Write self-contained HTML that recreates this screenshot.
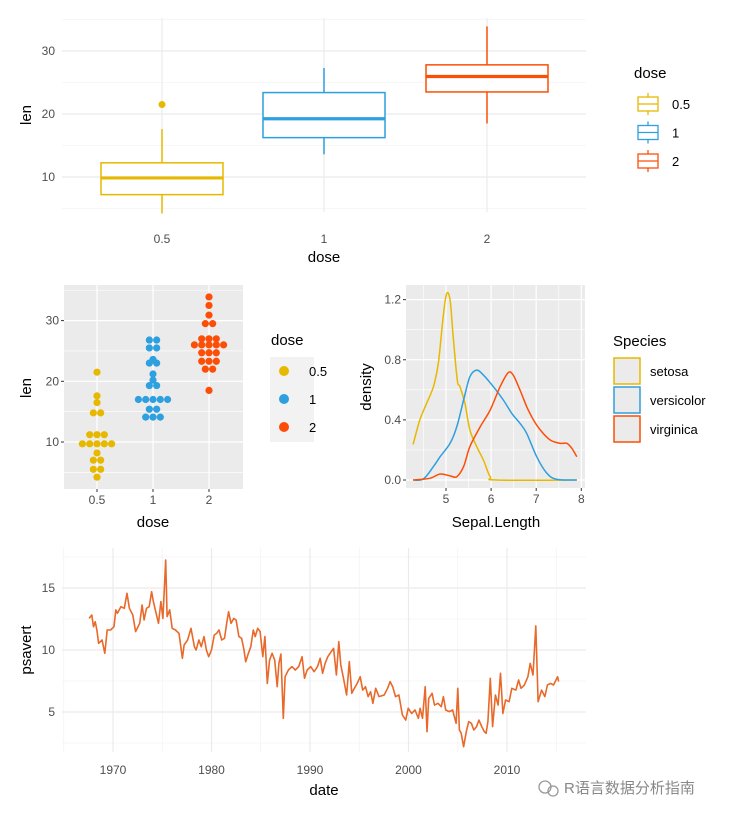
<!DOCTYPE html>
<html><head><meta charset="utf-8">
<style>
body{margin:0;background:#fff;}
svg{display:block;font-family:"Liberation Sans","Noto Sans CJK SC",sans-serif;}
.tick{font-size:12px;fill:#4d4d4d;}
.title{font-size:15px;fill:#000;}
.leg{font-size:13px;fill:#000;}
</style></head>
<body>
<svg id="s" width="741" height="818" viewBox="0 0 741 818">
<g id="g1"></g>
<g id="g2"></g>
<g id="g3"></g>
<g id="g4"></g>
<g>
<circle cx="545" cy="787" r="6" fill="none" stroke="#999" stroke-width="1.3"/>
<circle cx="553" cy="791" r="5" fill="none" stroke="#999" stroke-width="1.3"/>
<text x="564" y="793" font-size="15" fill="#888">R语言数据分析指南</text>
</g>
</svg>
<script>
// ---- data ----
const doseCats = ["0.5","1","2"];
const doseColors = ["#E7B800","#2E9FDF","#FC4E07"];
const boxLower = [4.2,13.6,18.5];
const boxQ1 = [7.2,16.25,23.5];
const boxMedian = [9.85,19.25,25.95];
const boxQ3 = [12.25,23.4,27.8];
const boxUpper = [17.6,27.3,33.9];
const boxOutliers = [[21.5],[],[]];
const lenTicks = [10,20,30];

const dotValues05 = [4.2,5.5,7.0,8.2,9.7,11.2,14.8,16.5,17.6,21.5];
const dotCounts05 = [1,2,2,1,5,3,2,1,1,1];
const dotValues1 = [14.1,15.4,17.0,19.3,20.2,21.2,23.0,23.6,25.5,26.8];
const dotCounts1 = [3,2,5,2,1,1,2,1,2,2];
const dotValues2 = [18.5,22.0,23.3,24.7,26.0,27.0,29.5,30.9,32.5,33.9];
const dotCounts2 = [1,2,3,3,5,3,2,1,1,1];

const species = ["setosa","versicolor","virginica"];
const setosaX = [4.27,4.42,4.57,4.72,4.83,4.93,5.01,5.09,5.16,5.25,5.31,5.42,5.53,5.68,5.83,5.98,6.13,7.9];
const setosaY = [0.237,0.399,0.51,0.62,0.776,1.064,1.237,1.197,0.953,0.665,0.62,0.51,0.333,0.222,0.133,0.022,0,0];
const versiX = [4.27,4.5,4.72,4.87,5.09,5.24,5.39,5.53,5.68,5.83,6.05,6.27,6.46,6.64,6.79,7.01,7.24,7.46,7.9];
const versiY = [0,0.007,0.089,0.155,0.244,0.355,0.532,0.687,0.731,0.698,0.621,0.532,0.443,0.377,0.31,0.155,0.044,0.004,0];
const virgX = [4.27,4.64,4.87,5.09,5.24,5.39,5.53,5.76,5.98,6.2,6.38,6.49,6.64,6.79,6.94,7.09,7.31,7.53,7.68,7.79,7.9];
const virgY = [0,0.011,0.04,0.027,0.022,0.089,0.222,0.355,0.466,0.621,0.714,0.698,0.599,0.488,0.399,0.333,0.266,0.244,0.244,0.211,0.155];
const densXTicks = [5,6,7,8];
const densYTicks = [0,0.4,0.8,1.2];
const densYLabels = ["0.0","0.4","0.8","1.2"];

const tsYears = [1967.57,1967.85,1968.02,1968.19,1968.37,1968.54,1968.89,1969.17,1969.41,1969.76,1970.10,1970.28,1970.45,1970.80,1971.15,1971.42,1971.67,1972.01,1972.29,1972.71,1972.95,1973.16,1973.40,1973.68,1973.92,1974.10,1974.38,1974.62,1974.86,1975.07,1975.35,1975.49,1975.76,1976.01,1976.35,1976.70,1977.05,1977.22,1977.57,1977.92,1978.26,1978.44,1978.72,1978.96,1979.24,1979.48,1979.72,1980.00,1980.28,1980.52,1980.76,1981.04,1981.32,1981.56,1981.74,1981.98,1982.26,1982.50,1982.78,1983.06,1983.30,1983.47,1983.75,1983.99,1984.24,1984.44,1984.69,1984.93,1985.21,1985.42,1985.66,1985.90,1986.15,1986.42,1986.67,1986.84,1987.05,1987.29,1987.47,1987.81,1988.16,1988.51,1988.85,1989.20,1989.44,1989.72,1990.07,1990.42,1990.76,1991.04,1991.28,1991.53,1991.81,1992.15,1992.40,1992.68,1992.92,1993.13,1993.40,1993.72,1993.99,1994.24,1994.51,1994.79,1995.10,1995.35,1995.63,1995.90,1996.15,1996.39,1996.67,1997.01,1997.53,1997.88,1998.13,1998.40,1998.68,1999.03,1999.38,1999.72,1999.97,2000.31,2000.66,2001.01,2001.18,2001.42,2001.70,2001.88,2002.05,2002.40,2002.64,2002.99,2003.33,2003.54,2003.78,2004.13,2004.48,2004.83,2005.00,2005.17,2005.35,2005.59,2005.87,2006.11,2006.39,2006.63,2006.91,2007.15,2007.43,2007.71,2007.88,2008.06,2008.30,2008.54,2008.82,2009.10,2009.34,2009.58,2009.86,2010.21,2010.49,2010.90,2011.18,2011.42,2011.77,2012.12,2012.36,2012.64,2012.92,2013.16,2013.51,2013.85,2014.10,2014.44,2014.72,2015.14,2015.24];
const tsValues = [12.55,12.82,11.88,12.28,11.61,10.54,10.81,9.73,11.61,11.61,11.88,13.23,12.96,13.49,13.36,14.57,13.36,12.82,11.48,12.15,13.63,12.42,13.36,13.49,14.70,13.90,12.96,12.15,13.90,12.55,17.26,12.69,13.23,11.75,11.61,11.34,9.33,10.40,10.81,11.75,10.27,10.0,10.81,10.27,11.08,10.0,9.46,10.0,11.21,11.34,11.61,10.81,10.94,12.28,13.09,12.15,12.55,12.42,11.08,10.94,10.0,9.06,9.73,10.27,11.61,11.08,11.75,11.48,9.46,11.08,7.31,9.19,9.73,9.19,7.04,8.92,9.68,4.49,7.85,8.39,8.66,8.39,8.66,9.46,7.72,8.39,8.66,8.25,8.66,9.33,8.12,8.92,9.46,9.87,10.13,7.98,10.67,8.79,7.72,6.37,9.06,6.51,6.91,7.31,7.85,6.77,7.04,6.24,6.64,5.70,6.91,6.24,6.37,6.91,7.45,7.04,6.24,6.37,4.76,4.35,5.30,4.89,5.16,4.49,5.30,4.49,7.04,3.41,6.10,6.51,5.56,5.70,5.43,6.24,5.16,5.03,5.16,4.09,6.91,3.55,3.28,2.20,3.41,4.22,4.09,3.55,3.82,4.35,3.82,3.41,3.28,4.22,7.72,3.82,6.37,5.56,8.12,4.89,5.97,5.83,6.91,6.77,7.58,6.91,7.18,7.85,8.92,7.98,11.94,5.83,6.77,6.24,7.18,7.31,7.18,7.85,7.45];
const tsXTicks = [1970,1980,1990,2000,2010];
const tsYTicks = [5,10,15];

// ---- helpers ----
const NS="http://www.w3.org/2000/svg";
function mk(parent,tag,attrs,txt){const e=document.createElementNS(NS,tag);for(const k in attrs)e.setAttribute(k,attrs[k]);if(txt!==undefined)e.textContent=txt;parent.appendChild(e);return e;}
function smooth(P){let d='M'+P[0][0].toFixed(1)+','+P[0][1].toFixed(1);
for(let i=0;i<P.length-1;i++){const p0=P[Math.max(0,i-1)],p1=P[i],p2=P[i+1],p3=P[Math.min(P.length-1,i+2)];
const c1=[p1[0]+(p2[0]-p0[0])/6,p1[1]+(p2[1]-p0[1])/6],c2=[p2[0]-(p3[0]-p1[0])/6,p2[1]-(p3[1]-p1[1])/6];
d+=' C'+c1[0].toFixed(1)+','+c1[1].toFixed(1)+' '+c2[0].toFixed(1)+','+c2[1].toFixed(1)+' '+p2[0].toFixed(1)+','+p2[1].toFixed(1);}
return d;}

// ===== Panel 1: boxplot =====
(function(){
const g=document.getElementById('g1');
const L=62,R=586,T=18,B=212;
const y=v=>177-(v-10)*6.3;
const xc=[162,324,487];
[5,15,25,35].forEach(v=>{const l=mk(g,'line',{x1:L,x2:R,y1:y(v),y2:y(v),stroke:'#f0f0f0','stroke-width':0.6});

});
lenTicks.forEach(v=>{const l=mk(g,'line',{x1:L,x2:R,y1:y(v),y2:y(v),stroke:'#ebebeb','stroke-width':1.2});


const t=mk(g,'text',{x:55,y:y(v)+4,'text-anchor':'end',class:'tick'},String(v));

});
xc.forEach((x,i)=>{const l=mk(g,'line',{x1:x,x2:x,y1:T,y2:B,stroke:'#ebebeb','stroke-width':1.2});


const t=mk(g,'text',{x:x,y:243,'text-anchor':'middle',class:'tick'},doseCats[i]);

});
doseCats.forEach((c,i)=>{
const col=doseColors[i],x=xc[i],w=61;
const bx=mk(g,'g',{});


mk(bx,'line',{x1:x,x2:x,y1:y(boxUpper[i]),y2:y(boxQ3[i]),stroke:col,'stroke-width':1.5});
mk(bx,'line',{x1:x,x2:x,y1:y(boxQ1[i]),y2:y(boxLower[i]),stroke:col,'stroke-width':1.5});
mk(bx,'rect',{x:x-w,y:y(boxQ3[i]),width:2*w,height:y(boxQ1[i])-y(boxQ3[i]),fill:'#fff',stroke:col,'stroke-width':1.5});
mk(bx,'line',{x1:x-w,x2:x+w,y1:y(boxMedian[i]),y2:y(boxMedian[i]),stroke:col,'stroke-width':3.2});
boxOutliers[i].forEach(o=>{const p=mk(g,'circle',{cx:x,cy:y(o),r:3.5,fill:col});

});
});
const yt=mk(g,'text',{x:0,y:0,class:'title',transform:'translate(31,115) rotate(-90)','text-anchor':'middle'},'len');


const xt=mk(g,'text',{x:324,y:262,class:'title','text-anchor':'middle'},'dose');


const lt=mk(g,'text',{x:634,y:78,class:'title'},'dose');


doseCats.forEach((c,i)=>{const cy=104+i*28.5,col=doseColors[i];
const e=mk(g,'g',{});


mk(e,'line',{x1:648,x2:648,y1:cy-11,y2:cy+11,stroke:col,'stroke-width':1.3});
mk(e,'rect',{x:638,y:cy-7,width:20,height:14,fill:'#fff',stroke:col,'stroke-width':1.3});
mk(e,'line',{x1:638,x2:658,y1:cy,y2:cy,stroke:col,'stroke-width':1.3});
mk(e,'text',{x:672,y:cy+5,class:'leg'},c);});
})();

// ===== Panel 2: dotplot =====
(function(){
const g=document.getElementById('g2');
const L=64,R=243,T=285,B=489;
const y=v=>442-(v-10)*6.07;
const xc=[97,153,209];
mk(g,'rect',{x:L,y:T,width:R-L,height:B-T,fill:'#ebebeb'});
[5,15,25,35].forEach(v=>{if(y(v)>T&&y(v)<B)mk(g,'line',{x1:L,x2:R,y1:y(v),y2:y(v),stroke:'#fff','stroke-width':0.6});});
lenTicks.forEach(v=>{mk(g,'line',{x1:L,x2:R,y1:y(v),y2:y(v),stroke:'#fff','stroke-width':1.2});
mk(g,'line',{x1:L-3,x2:L,y1:y(v),y2:y(v),stroke:'#333','stroke-width':1});
const t=mk(g,'text',{x:L-5,y:y(v)+4,'text-anchor':'end',class:'tick'},String(v));

});
xc.forEach((x,i)=>{mk(g,'line',{x1:x,x2:x,y1:T,y2:B,stroke:'#fff','stroke-width':1.2});
mk(g,'line',{x1:x,x2:x,y1:B,y2:B+3,stroke:'#333','stroke-width':1});
const t=mk(g,'text',{x:x,y:B+15,'text-anchor':'middle',class:'tick'},doseCats[i]);

});
const vals=[dotValues05,dotValues1,dotValues2],cnts=[dotCounts05,dotCounts1,dotCounts2];
const d=7.3;
vals.forEach((vs,i)=>{vs.forEach((v,j)=>{const n=cnts[i][j];for(let k=0;k<n;k++){
const cx=xc[i]+(k-(n-1)/2)*d;
const p=mk(g,'circle',{cx:cx,cy:y(v),r:3.6,fill:doseColors[i]});

}});});
const yt=mk(g,'text',{x:0,y:0,class:'title',transform:'translate(31,388) rotate(-90)','text-anchor':'middle'},'len');


const xt=mk(g,'text',{x:153,y:527,class:'title','text-anchor':'middle'},'dose');


const lt=mk(g,'text',{x:271,y:345,class:'title'},'dose');


mk(g,'rect',{x:270,y:357,width:44,height:85,fill:'#f2f2f2'});
doseCats.forEach((c,i)=>{const cy=371+i*28;
const e=mk(g,'g',{});


mk(e,'circle',{cx:284,cy:cy,r:5,fill:doseColors[i]});
mk(e,'text',{x:309,y:cy+5,class:'leg'},c);});
})();

// ===== Panel 3: density =====
(function(){
const g=document.getElementById('g3');
const L=406,R=585,T=285,B=488;
const x=v=>446+(v-5)*45.1;
const y=v=>480-v*150.3;
mk(g,'rect',{x:L,y:T,width:R-L,height:B-T,fill:'#ebebeb'});
[4.5,5.5,6.5,7.5].forEach(v=>mk(g,'line',{x1:x(v),x2:x(v),y1:T,y2:B,stroke:'#fff','stroke-width':0.6}));
[0.2,0.6,1.0].forEach(v=>mk(g,'line',{x1:L,x2:R,y1:y(v),y2:y(v),stroke:'#fff','stroke-width':0.6}));
densXTicks.forEach(v=>{mk(g,'line',{x1:x(v),x2:x(v),y1:T,y2:B,stroke:'#fff','stroke-width':1.2});
mk(g,'line',{x1:x(v),x2:x(v),y1:B,y2:B+3,stroke:'#333'});
const t=mk(g,'text',{x:x(v),y:B+15,'text-anchor':'middle',class:'tick'},String(v));

});
densYTicks.forEach((v,i)=>{mk(g,'line',{x1:L,x2:R,y1:y(v),y2:y(v),stroke:'#fff','stroke-width':1.2});
mk(g,'line',{x1:L-3,x2:L,y1:y(v),y2:y(v),stroke:'#333'});
const t=mk(g,'text',{x:L-5,y:y(v)+4,'text-anchor':'end',class:'tick'},densYLabels[i]);

});
const xs=[setosaX,versiX,virgX],ys=[setosaY,versiY,virgY];
species.forEach((s,i)=>{
const P=xs[i].map((v,j)=>[x(v),y(ys[i][j])]);
const p=mk(g,'path',{d:smooth(P),fill:'none',stroke:doseColors[i],'stroke-width':1.5,'stroke-linejoin':'round'});

});
const yt=mk(g,'text',{x:0,y:0,class:'title',transform:'translate(371,387) rotate(-90)','text-anchor':'middle'},'density');


const xt=mk(g,'text',{x:496,y:527,class:'title','text-anchor':'middle'},'Sepal.Length');


const lt=mk(g,'text',{x:613,y:346,class:'title'},'Species');


species.forEach((s,i)=>{const ty=358+i*29;
const e=mk(g,'g',{});


mk(e,'rect',{x:614,y:ty,width:26,height:26,fill:'#ebebeb',stroke:doseColors[i],'stroke-width':1.5});
mk(e,'text',{x:650,y:ty+18,class:'leg'},s);});
})();

// ===== Panel 4: time series =====
(function(){
const g=document.getElementById('g4');
const L=62,R=586,T=548,B=752;
const x=v=>113+(v-1970)*9.85;
const y=v=>650-(v-10)*12.4;
[2.5,7.5,12.5,17.5].forEach(v=>mk(g,'line',{x1:L,x2:R,y1:y(v),y2:y(v),stroke:'#f0f0f0','stroke-width':0.6}));
[1965,1975,1985,1995,2005,2015].forEach(v=>mk(g,'line',{x1:x(v),x2:x(v),y1:T,y2:B,stroke:'#f0f0f0','stroke-width':0.6}));
tsYTicks.forEach(v=>{mk(g,'line',{x1:L,x2:R,y1:y(v),y2:y(v),stroke:'#ebebeb','stroke-width':1.2});
const t=mk(g,'text',{x:55,y:y(v)+4,'text-anchor':'end',class:'tick'},String(v));

});
tsXTicks.forEach(v=>{mk(g,'line',{x1:x(v),x2:x(v),y1:T,y2:B,stroke:'#ebebeb','stroke-width':1.2});
const t=mk(g,'text',{x:x(v),y:774,'text-anchor':'middle',class:'tick'},String(v));

});
const pts=tsYears.map((v,j)=>x(v).toFixed(1)+','+y(tsValues[j]).toFixed(1)).join(' ');
const p=mk(g,'polyline',{points:pts,fill:'none',stroke:'#E8692A','stroke-width':1.6,'stroke-linejoin':'round'});


const yt=mk(g,'text',{x:0,y:0,class:'title',transform:'translate(31,650) rotate(-90)','text-anchor':'middle'},'psavert');


const xt=mk(g,'text',{x:324,y:795,class:'title','text-anchor':'middle'},'date');


})();
</script>
</body></html>
